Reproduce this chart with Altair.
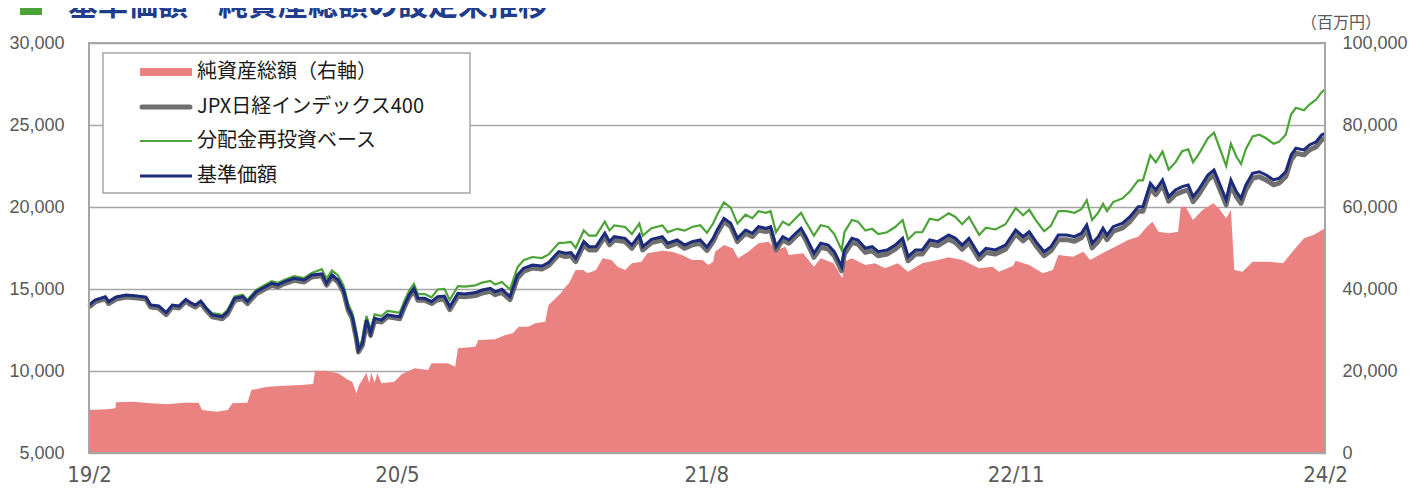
import altair as alt
import pandas as pd

# ---------------- data ----------------
nav_dates = [
    "2019-02-15", "2019-02-24", "2019-03-11", "2019-03-16", "2019-03-27", "2019-04-11", "2019-04-27", "2019-05-10",
    "2019-05-17", "2019-05-29", "2019-06-09", "2019-06-18", "2019-06-28", "2019-07-08", "2019-07-15", "2019-07-22",
    "2019-07-30", "2019-08-07",
    "2019-08-16", "2019-08-31", "2019-09-08", "2019-09-18", "2019-09-30", "2019-10-07", "2019-10-20", "2019-11-12",
    "2019-11-21", "2019-12-01", "2019-12-15", "2019-12-30", "2020-01-10",
    "2020-01-25", "2020-02-01", "2020-02-09", "2020-02-18", "2020-02-26", "2020-03-04", "2020-03-10", "2020-03-16",
    "2020-03-19", "2020-03-25", "2020-03-31", "2020-04-06", "2020-04-12", "2020-04-22", "2020-05-01", "2020-05-11",
    "2020-05-19", "2020-05-26", "2020-06-02", "2020-06-09", "2020-06-15", "2020-06-25", "2020-07-05",
    "2020-07-14", "2020-07-24", "2020-08-01", "2020-08-13", "2020-08-23", "2020-09-08", "2020-09-18", "2020-09-30",
    "2020-10-07", "2020-10-17", "2020-10-29", "2020-11-09", "2020-11-18", "2020-12-01", "2020-12-15", "2020-12-25",
    "2021-01-09",
    "2021-01-19", "2021-01-27", "2021-02-03", "2021-02-15", "2021-02-23", "2021-03-05", "2021-03-18", "2021-03-25",
    "2021-04-01", "2021-04-17", "2021-04-27", "2021-05-08", "2021-05-13", "2021-05-26", "2021-06-11", "2021-06-19",
    "2021-07-03",
    "2021-07-14", "2021-07-25", "2021-08-06", "2021-08-16", "2021-08-25", "2021-08-31", "2021-09-10", "2021-09-20",
    "2021-09-30", "2021-10-12", "2021-10-22", "2021-10-31", "2021-11-11", "2021-11-18", "2021-11-26", "2021-12-06",
    "2021-12-15", "2021-12-25", "2022-01-02", "2022-01-09",
    "2022-01-21", "2022-01-31", "2022-02-11", "2022-02-20", "2022-03-03", "2022-03-07", "2022-03-18", "2022-03-27",
    "2022-04-07", "2022-04-17", "2022-04-26", "2022-05-09", "2022-05-21", "2022-06-01", "2022-06-09", "2022-06-20",
    "2022-06-30",
    "2022-07-11", "2022-07-23", "2022-08-08", "2022-08-18", "2022-08-28", "2022-09-07", "2022-09-22", "2022-10-02",
    "2022-10-16", "2022-10-31", "2022-11-15", "2022-11-26", "2022-12-05", "2022-12-15", "2022-12-27", "2023-01-06",
    "2023-01-17", "2023-01-29", "2023-02-10", "2023-02-20", "2023-02-28", "2023-03-08", "2023-03-17", "2023-03-24",
    "2023-03-30", "2023-04-08", "2023-04-22", "2023-05-03", "2023-05-15", "2023-05-22", "2023-06-02", "2023-06-10",
    "2023-06-20", "2023-06-29", "2023-07-09",
    "2023-07-19", "2023-07-28", "2023-08-04", "2023-08-12", "2023-08-26", "2023-09-04", "2023-09-11", "2023-09-22",
    "2023-09-29", "2023-10-07", "2023-10-14", "2023-10-21", "2023-10-31", "2023-11-10", "2023-11-20", "2023-12-01",
    "2023-12-09", "2023-12-19", "2023-12-27", "2024-01-03", "2024-01-15", "2024-01-23", "2024-02-02", "2024-02-10",
    "2024-02-15",
]

# 基準価額
nav_values = [
    14020, 14330, 14530, 14230, 14510, 14630, 14570, 14510, 14020, 13960, 13560, 14020, 13960, 14370, 14170, 14020,
    14270, 13840,
    13420, 13310, 13620, 14430, 14530, 14230, 14830, 15350, 15250, 15450, 15650, 15550, 15850,
    15920, 15350, 15850, 15550, 14940, 13820, 13310, 12090, 11280, 11690, 13110, 12300, 13210, 13110, 13420, 13360,
    13310, 14020, 14630, 15040, 14430, 14430, 14230,
    14530, 14570, 13920, 14740, 14700, 14780, 14940, 15040, 14830, 14980, 14530, 15850, 16260, 16460, 16400, 16610,
    17280,
    17180, 17220, 16870, 17890, 17580, 17580, 18400, 17890, 18190, 18090, 17680, 18290, 17580, 18030, 18190, 17790,
    17990,
    17680, 17890, 17990, 17550, 18090, 18600, 19310, 19010, 18090, 18600, 18400, 18800, 18700, 18800, 17580, 18190,
    17990, 18400, 18700, 18190,
    17180, 17790, 17680, 17280, 16360, 17380, 18090, 17990, 17480, 17580, 17280, 17380, 17680, 18090, 16970, 17380,
    17380,
    17990, 17890, 18290, 18090, 17680, 18090, 17070, 17480, 17380, 17680, 18600, 18190, 18500, 17890, 17280, 17580,
    18290, 18290, 18190, 18400, 18900, 17790, 18190, 18700, 18290, 18800, 19010, 19410, 20020, 20020, 21440, 21040,
    21650, 20630, 21040,
    21240, 21340, 20630, 21040, 21950, 22260, 21550, 20430, 21650, 20940, 20530, 21340, 22050, 22150, 21950, 21650,
    21750, 22150, 23170, 23580, 23480, 23780, 23980, 24390, 24490,
]

# 分配金再投資ベース
reinvest_values = [
    14020, 14330, 14530, 14230, 14510, 14630, 14570, 14510, 14020, 13960, 13560, 14020, 13960, 14370, 14170, 14020,
    14270, 13840,
    13530, 13420, 13730, 14550, 14650, 14340, 14950, 15470, 15370, 15570, 15780, 15670, 15980,
    16210, 15630, 16140, 15830, 15210, 14070, 13550, 12310, 11480, 11900, 13350, 12520, 13450, 13350, 13660, 13600,
    13550, 14270, 14890, 15310, 14690, 14690, 14490,
    14970, 15010, 14340, 15180, 15140, 15220, 15390, 15490, 15270, 15430, 14970, 16330, 16750, 16950, 16890, 17110,
    17800,
    17830, 17870, 17510, 18570, 18250, 18250, 19100, 18570, 18880, 18780, 18350, 18990, 18250, 18710, 18880, 18470,
    18670,
    18560, 18780, 18890, 18430, 18990, 19530, 20280, 19960, 18990, 19530, 19320, 19740, 19640, 19740, 18460, 19100,
    18890, 19320, 19640, 19100,
    18250, 18890, 18780, 18350, 17370, 18460, 19210, 19110, 18560, 18670, 18350, 18460, 18780, 19210, 18020, 18460,
    18460,
    19290, 19180, 19610, 19390, 18950, 19390, 18300, 18740, 18630, 18950, 19940, 19500, 19830, 19180, 18520, 18850,
    19750, 19750, 19650, 19870, 20410, 19210, 19650, 20200, 19750, 20300, 20530, 20960, 21620, 21620, 23160, 22720,
    23380, 22280, 22720,
    23410, 23520, 22730, 23190, 24190, 24530, 23750, 22510, 23860, 23080, 22620, 23520, 24300, 24410, 24190, 23860,
    23970, 24410, 25650, 26050, 25900, 26250, 26550, 27000, 27180,
]

# JPX日経インデックス400
index_values = [
    13900, 14210, 14410, 14110, 14390, 14510, 14450, 14390, 13900, 13840, 13440, 13900, 13840, 14250, 14050, 13900,
    14150, 13720,
    13300, 13190, 13500, 14310, 14410, 14110, 14710, 15230, 15130, 15330, 15530, 15430, 15730,
    15800, 15230, 15730, 15430, 14820, 13700, 13190, 11970, 11160, 11570, 12990, 12180, 13090, 12990, 13300, 13240,
    13190, 13900, 14510, 14920, 14310, 14310, 14110,
    14350, 14390, 13740, 14560, 14520, 14600, 14760, 14860, 14650, 14800, 14350, 15670, 16080, 16280, 16220, 16430,
    17100,
    16980, 17020, 16670, 17690, 17380, 17380, 18200, 17690, 17990, 17890, 17480, 18090, 17380, 17830, 17990, 17590,
    17790,
    17480, 17690, 17790, 17350, 17890, 18400, 19110, 18810, 17890, 18400, 18200, 18600, 18500, 18600, 17380, 17990,
    17790, 18200, 18500, 17990,
    16930, 17540, 17430, 17030, 16110, 17130, 17840, 17740, 17230, 17330, 17030, 17130, 17430, 17840, 16720, 17130,
    17130,
    17740, 17640, 18040, 17840, 17430, 17840, 16820, 17230, 17130, 17430, 18350, 17940, 18250, 17640, 17030, 17330,
    18010, 18010, 17910, 18120, 18620, 17510, 17910, 18420, 18010, 18520, 18730, 19130, 19740, 19740, 21160, 20760,
    21370, 20350, 20760,
    20940, 21040, 20330, 20740, 21650, 21960, 21250, 20130, 21350, 20640, 20230, 21040, 21750, 21850, 21650, 21350,
    21450, 21850, 22870, 23280, 23180, 23480, 23680, 24090, 24190,
]

# 純資産総額（百万円）
asset_dates = [
    "2019-02-15", "2019-03-13", "2019-03-26", "2019-03-27", "2019-04-22", "2019-05-17", "2019-06-10", "2019-07-05",
    "2019-07-27", "2019-08-01", "2019-08-23", "2019-09-08", "2019-09-15", "2019-10-07", "2019-10-13", "2019-11-06",
    "2019-12-01", "2019-12-26", "2020-01-12", "2020-01-15", "2020-01-30", "2020-02-18", "2020-03-04", "2020-03-10",
    "2020-03-16", "2020-03-20", "2020-03-31", "2020-04-04", "2020-04-07", "2020-04-12", "2020-04-16", "2020-04-22",
    "2020-05-11", "2020-05-22", "2020-06-10", "2020-06-30", "2020-07-05", "2020-07-29", "2020-08-09", "2020-08-13",
    "2020-09-08", "2020-09-12", "2020-10-07", "2020-10-22", "2020-11-02", "2020-11-11", "2020-11-25", "2020-12-05",
    "2020-12-20", "2020-12-25", "2021-01-12", "2021-01-19", "2021-01-24", "2021-02-03", "2021-02-14", "2021-02-21",
    "2021-03-05", "2021-03-15", "2021-03-28", "2021-04-06", "2021-04-17", "2021-04-27", "2021-05-11", "2021-05-20",
    "2021-06-11", "2021-06-25", "2021-07-10", "2021-07-25", "2021-08-09", "2021-08-18", "2021-08-25", "2021-08-28",
    "2021-09-10", "2021-09-23", "2021-10-01", "2021-10-16", "2021-10-31", "2021-11-15", "2021-11-26", "2021-12-10",
    "2021-12-15", "2022-01-05", "2022-01-21", "2022-01-31", "2022-02-19", "2022-03-04", "2022-03-07", "2022-03-18",
    "2022-04-07", "2022-04-21", "2022-05-06", "2022-05-25", "2022-06-09", "2022-06-30", "2022-07-23", "2022-08-08",
    "2022-08-28", "2022-09-22", "2022-10-12", "2022-10-21", "2022-11-11", "2022-11-15", "2022-12-05", "2022-12-25",
    "2023-01-09", "2023-01-17", "2023-02-08", "2023-02-23", "2023-03-05", "2023-03-23", "2023-04-11", "2023-04-30",
    "2023-05-15", "2023-05-28", "2023-06-05", "2023-06-14", "2023-06-29", "2023-07-13", "2023-07-17", "2023-07-24",
    "2023-08-04", "2023-08-18", "2023-09-03", "2023-09-11", "2023-09-22", "2023-09-29", "2023-10-04", "2023-10-16",
    "2023-10-31", "2023-11-25", "2023-12-15", "2023-12-27", "2024-01-15", "2024-01-29", "2024-02-15",
]
asset_values = [
    10490, 10650, 10890, 12360, 12520, 12110, 11870, 12280,
    12280, 10490, 10080, 10490, 12110, 12280, 15370, 16180,
    16420, 16590, 16830, 20070, 20070, 19440, 17800, 17400,
    14570, 16590, 19590, 17000, 19590, 17150, 19440, 17000,
    17400, 19200, 20660, 20240, 21880, 21880, 21050, 25540,
    25930, 27560, 27730, 28780, 29200, 30800, 30800, 31630,
    32020, 36100, 38950, 40560, 41390, 44630, 44630, 43830,
    44630, 47490, 47070, 45440, 44630, 46270, 46660, 48710,
    49340, 49100, 48290, 47070, 47070, 45850, 46660, 49100,
    50730, 49930, 47490, 49100, 51150, 51540, 49510, 50320,
    48290, 48710, 45440, 47490, 46270, 42610, 46660, 47490,
    45850, 46270, 45050, 46270, 44220, 46270, 47070, 47730,
    47070, 45050, 45440, 44220, 45610, 46860, 45850, 43830,
    44630, 48290, 47880, 49100, 47070, 48710, 50320, 51950,
    52760, 55200, 56420, 53980, 53590, 53980, 60070, 60070,
    56830, 59270, 60900, 59680, 57240, 59270, 44630, 44220,
    46660, 46660, 46270, 48710, 52370, 53170, 54810,
]

x_domain = ["2019-02-15", "2024-02-15"]
x_ticks = ["2019-02-15", "2020-05-15", "2021-08-15", "2022-11-15", "2024-02-15"]
left_ticks = [5000, 10000, 15000, 20000, 25000, 30000]
right_ticks = [0, 20000, 40000, 60000, 80000, 100000]
legend_labels = ["純資産総額（右軸）", "JPX日経インデックス400", "分配金再投資ベース", "基準価額"]
title_text = "基準価額・純資産総額の設定来推移"
unit_text = "（百万円）"

# ---------------- styles ----------------
PINK = "#EB8282"
NAVY = "#1C2B7B"
GREEN = "#4CA337"
GRAY = "#6F6F6F"
FRAME = "#A6A6A6"
LABEL = "#595959"
TITLE_BLUE = "#1F3D8C"
NUM_FONT = "Liberation Sans"
NARROW_FONT = "Liberation Sans Narrow, DejaVu Sans Condensed, sans-serif"
JP_FONT = "Noto Sans CJK JP"

W, H = 1236, 410

lines_df = pd.DataFrame({"date": nav_dates, "nav": nav_values,
                         "reinv": reinvest_values, "idx": index_values})
assets_df = pd.DataFrame({"date": asset_dates, "assets": asset_values})
one = pd.DataFrame({"k": [0]})


def dt(s):
    y, m, d = (int(p) for p in s.split("-"))
    return alt.DateTime(year=y, month=m, date=d, utc=True)


x_scale = alt.Scale(type="utc", domain=[dt(x_domain[0]), dt(x_domain[1])])
x_axis = alt.Axis(values=[dt(v) for v in x_ticks], format="%y/%-m", title=None,
                  domain=False, ticks=False, grid=False, labelPadding=11,
                  labelFont=NARROW_FONT, labelFontSize=22, labelColor=LABEL,
                  labelFlush=False, labelOverlap=False)

left_scale = alt.Scale(domain=[5000, 30000], nice=False, zero=False)
left_axis = alt.Axis(values=left_ticks, format=",d", title=None, grid=True,
                     gridColor=FRAME, gridWidth=1.5, domain=False, ticks=False,
                     labelPadding=25, labelFont=NUM_FONT, labelFontSize=18,
                     labelColor=LABEL, labelFlush=False, zindex=0)
right_axis = alt.Axis(orient="right", values=right_ticks, format=",d", title=None,
                      grid=False, domain=False, ticks=False, labelPadding=17,
                      labelFont=NUM_FONT, labelFontSize=18, labelColor=LABEL,
                      labelFlush=False)

area = alt.Chart(assets_df).mark_area(color=PINK, opacity=1).encode(
    x=alt.X("date:T", scale=x_scale, axis=x_axis),
    y=alt.Y("assets:Q", scale=alt.Scale(domain=[0, 100000], nice=False), axis=right_axis),
)

base = alt.Chart(lines_df).encode(x=alt.X("date:T", scale=x_scale, axis=x_axis))
gray_line = base.mark_line(color=GRAY, strokeWidth=5, strokeJoin="round").encode(
    y=alt.Y("idx:Q", scale=left_scale, axis=left_axis))
green_line = base.mark_line(color=GREEN, strokeWidth=2.2).encode(
    y=alt.Y("reinv:Q", scale=left_scale, axis=left_axis))
navy_line = base.mark_line(color=NAVY, strokeWidth=3).encode(
    y=alt.Y("nav:Q", scale=left_scale, axis=left_axis))
lines = alt.layer(gray_line, green_line, navy_line)

frame = alt.Chart(one).mark_rect(fill="transparent", stroke=FRAME, strokeWidth=2).encode(
    x=alt.value(0), x2=alt.value(W), y=alt.value(0), y2=alt.value(H))

legend_box = alt.Chart(one).mark_rect(fill="white", stroke=FRAME, strokeWidth=1.5).encode(
    x=alt.value(14), x2=alt.value(381), y=alt.value(10), y2=alt.value(150))

legend_layers = []
item_y = [29, 64, 98, 133]
sym_pink = alt.Chart(one).mark_rect(color=PINK).encode(
    x=alt.value(51), x2=alt.value(103), y=alt.value(25), y2=alt.value(33))
sym_gray = alt.Chart(one).mark_rule(color=GRAY, strokeWidth=5, strokeCap="round").encode(
    x=alt.value(53), x2=alt.value(101), y=alt.value(item_y[1]))
sym_green = alt.Chart(one).mark_rule(color=GREEN, strokeWidth=2).encode(
    x=alt.value(51), x2=alt.value(103), y=alt.value(item_y[2]))
sym_navy = alt.Chart(one).mark_rule(color=NAVY, strokeWidth=3).encode(
    x=alt.value(51), x2=alt.value(103), y=alt.value(item_y[3]))
legend_layers += [sym_pink, sym_gray, sym_green, sym_navy]
for lab, yy in zip(legend_labels, item_y):
    legend_layers.append(
        alt.Chart(pd.DataFrame({"label": [lab]})).mark_text(
            align="left", baseline="middle", font=JP_FONT, fontSize=20, color="#1A1A1A"
        ).encode(x=alt.value(108), y=alt.value(yy), text="label:N")
    )

title_sq = alt.Chart(one).mark_rect(color=GREEN).encode(
    x=alt.value(-69), x2=alt.value(-47), y=alt.value(-49), y2=alt.value(-28))
title_txt = alt.Chart(pd.DataFrame({"t": [title_text]})).mark_text(
    align="left", baseline="alphabetic", font=JP_FONT, fontSize=30, fontWeight="bold",
    color=TITLE_BLUE).encode(x=alt.value(-21), y=alt.value(-28), text="t:N")
unit_txt = alt.Chart(pd.DataFrame({"t": [unit_text]})).mark_text(
    align="center", baseline="middle", font=JP_FONT, fontSize=16, color=LABEL).encode(
    x=alt.value(1252), y=alt.value(-20), text="t:N")

chart = alt.layer(
    area, lines, frame, legend_box, *legend_layers, title_sq, title_txt, unit_txt
).resolve_scale(y="independent").properties(
    width=W, height=H,
    padding={"left": 81, "top": 35, "right": 91, "bottom": 36},
    autosize=alt.AutoSizeParams(type="none"),
).configure_view(stroke=None)

chart.save("out.html", embed_options={"renderer": "svg", "actions": False})
